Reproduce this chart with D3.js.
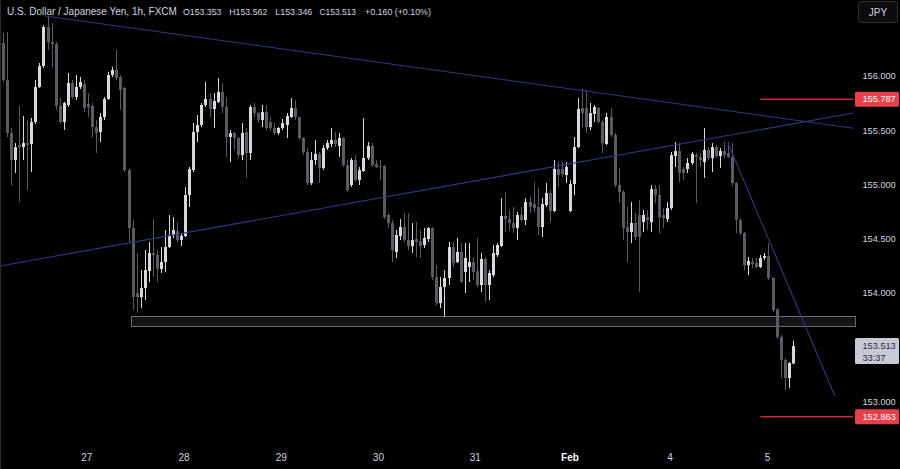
<!DOCTYPE html>
<html>
<head>
<meta charset="utf-8">
<script src="https://cdn.jsdelivr.net/npm/d3@7"></script>
<style>
  html, body { margin: 0; padding: 0; background: #000; }
  svg { display: block; }
</style>
</head>
<body>
<svg id="chart" width="900" height="469"></svg>
<script>
// ---- DATA (USD/JPY 1h, FXCM) ----
const open = [
156.304,155.963,155.475,155.226,155.365,155.346,155.383,155.374,155.576,155.899,
156.092,156.451,156.313,156.295,155.724,155.576,155.733,155.936,155.807,155.899,
155.926,155.742,155.724,155.530,155.484,155.622,155.788,156.009,156.055,155.991,
155.890,155.134,154.600,154.001,153.965,154.048,154.204,154.370,154.351,154.223,
154.287,154.425,154.536,154.573,154.490,154.527,154.904,155.134,155.484,155.549,
155.733,155.788,155.696,155.761,155.853,155.715,155.438,155.475,155.429,155.272,
155.484,155.291,155.715,155.659,155.595,155.668,155.576,155.521,155.475,155.521,
155.549,155.622,155.705,155.622,155.429,155.300,155.015,155.226,155.282,155.153,
155.337,155.374,155.411,155.355,155.429,155.180,154.996,155.226,155.042,155.125,
155.245,155.355,155.190,155.171,155.171,154.720,154.646,154.379,154.527,154.609,
154.490,154.434,154.499,154.481,154.444,154.499,154.600,154.149,153.910,154.057,
154.140,154.425,154.287,154.379,154.195,154.241,154.287,154.204,154.075,154.315,
154.075,154.167,154.351,154.434,154.711,154.683,154.646,154.600,154.720,154.674,
154.840,154.821,154.794,154.609,154.812,154.922,154.757,155.144,155.144,155.088,
154.757,155.005,155.346,155.705,155.705,155.530,155.650,155.705,155.576,155.374,
155.622,155.457,154.996,154.932,154.609,154.563,154.646,154.720,154.655,154.701,
154.655,154.959,154.904,154.720,154.683,154.784,155.263,155.309,155.144,155.144,
155.199,155.272,155.254,155.208,155.319,155.245,155.346,155.263,155.309,155.291,
155.254,155.015,154.674,154.554,154.259,154.287,154.278,154.241,154.324,154.342,
154.140,153.854,153.596,153.384,153.219,153.353
];
const high = [
156.396,156.405,155.521,155.383,155.724,155.632,155.595,155.613,155.963,156.120,
156.470,156.543,156.488,156.313,155.797,155.761,156.028,155.963,156.009,155.991,
155.963,155.843,155.751,155.595,155.659,155.807,156.037,156.083,156.240,156.009,
155.899,155.153,154.674,154.370,154.213,154.398,154.471,154.683,154.398,154.425,
154.582,154.720,154.701,154.655,154.554,154.978,155.162,155.567,155.641,155.751,
155.945,155.843,155.843,155.982,155.936,155.807,155.503,155.484,155.438,155.567,
155.521,155.733,155.751,155.668,155.733,155.733,155.622,155.567,155.530,155.604,
155.659,155.797,155.779,155.622,155.438,155.337,155.300,155.411,155.300,155.365,
155.411,155.521,155.484,155.475,155.438,155.226,155.245,155.272,155.162,155.613,
155.392,155.383,155.226,155.226,155.180,154.738,154.674,154.582,154.683,154.738,
154.738,154.646,154.655,154.582,154.600,154.609,154.609,154.259,154.149,154.213,
154.471,154.471,154.508,154.462,154.462,154.462,154.333,154.508,154.370,154.333,
154.213,154.444,154.462,154.876,154.932,154.766,154.794,154.747,154.794,154.876,
154.886,155.024,154.969,154.876,155.015,154.950,155.226,155.208,155.208,155.208,
155.042,155.438,155.797,155.880,155.871,155.751,155.733,155.715,155.595,155.659,
155.705,155.475,155.153,154.950,154.794,154.840,154.738,154.858,154.766,154.766,
154.996,154.996,154.996,154.784,154.840,155.300,155.392,155.383,155.162,155.245,
155.300,155.291,155.291,155.521,155.346,155.383,155.365,155.337,155.392,155.392,
155.383,155.024,154.692,154.563,154.333,154.324,154.324,154.351,154.370,154.462,
154.149,153.863,153.615,153.403,153.366,153.562
];
const low = [
155.945,155.438,154.996,155.107,154.840,155.226,154.950,155.116,155.558,155.890,
156.074,156.240,156.083,155.687,155.567,155.503,155.715,155.788,155.779,155.880,
155.668,155.622,155.438,155.291,155.392,155.595,155.779,155.991,155.963,155.687,
155.116,154.462,153.845,153.818,153.863,153.937,154.103,154.149,154.103,154.186,
154.195,154.416,154.508,154.471,154.434,154.517,154.794,155.116,155.392,155.530,
155.715,155.622,155.521,155.751,155.659,155.254,155.208,155.319,155.245,155.226,
155.061,155.226,155.622,155.567,155.530,155.503,155.494,155.457,155.457,155.503,
155.429,155.613,155.595,155.411,155.272,154.996,154.996,155.180,155.015,155.134,
155.319,155.346,155.346,155.254,155.162,154.932,154.978,155.024,154.996,155.116,
155.226,155.162,155.153,155.042,154.683,154.600,154.287,154.324,154.490,154.471,
154.398,154.370,154.333,154.324,154.416,154.471,154.122,153.891,153.863,153.781,
154.075,154.241,154.278,154.094,154.001,154.103,154.122,154.057,154.011,153.919,
153.937,154.149,154.333,154.425,154.563,154.582,154.554,154.490,154.655,154.628,
154.738,154.747,154.536,154.517,154.794,154.655,154.747,154.978,155.070,155.015,
154.747,154.904,155.337,155.530,155.475,155.503,155.576,155.567,155.291,155.365,
155.438,154.978,154.830,154.490,154.287,154.462,154.490,154.011,154.563,154.582,
154.563,154.830,154.554,154.600,154.655,154.766,155.162,155.024,155.042,155.107,
155.180,154.830,155.162,155.061,155.226,155.116,155.245,155.153,155.245,155.245,
154.987,154.554,154.536,154.213,154.167,154.232,154.232,154.232,154.306,154.122,
153.827,153.578,153.219,153.109,153.127,153.346
];
const close = [
155.963,155.475,155.226,155.346,155.346,155.383,155.365,155.576,155.899,156.092,
156.451,156.313,156.295,155.724,155.576,155.751,155.936,155.807,155.899,155.945,
155.705,155.715,155.530,155.475,155.622,155.788,156.009,156.055,155.982,155.871,
155.134,154.600,153.965,153.965,154.048,154.213,154.370,154.351,154.223,154.287,
154.425,154.536,154.582,154.490,154.527,154.904,155.144,155.484,155.549,155.733,
155.788,155.696,155.770,155.853,155.715,155.438,155.475,155.429,155.272,155.475,
155.291,155.715,155.659,155.595,155.668,155.521,155.521,155.475,155.521,155.567,
155.632,155.705,155.622,155.429,155.300,155.015,155.226,155.282,155.153,155.337,
155.383,155.411,155.374,155.429,155.180,154.950,155.226,155.042,155.134,155.245,
155.355,155.180,155.162,155.162,154.701,154.646,154.398,154.536,154.609,154.490,
154.434,154.490,154.471,154.434,154.508,154.600,154.149,153.910,154.057,154.140,
154.425,154.278,154.379,154.103,154.324,154.287,154.195,154.075,154.315,154.075,
154.186,154.370,154.444,154.711,154.683,154.646,154.600,154.720,154.674,154.840,
154.794,154.784,154.609,154.821,154.922,154.757,155.144,155.088,155.097,155.162,
155.005,155.346,155.696,155.659,155.530,155.659,155.715,155.576,155.383,155.622,
155.457,154.996,154.932,154.600,154.563,154.646,154.517,154.517,154.720,154.674,
154.959,154.904,154.701,154.692,154.784,155.272,155.309,155.107,155.107,155.199,
155.282,155.254,155.226,155.319,155.245,155.346,155.263,155.309,155.272,155.254,
155.015,154.674,154.554,154.259,154.296,154.269,154.241,154.324,154.342,154.140,
153.845,153.596,153.384,153.219,153.357,153.513
];

// time axis: candle-index position of each day label
const dayLabels = ["27", "28", "29", "30", "31", "Feb", "4", "5"];
const dayIndex  = [20.7, 44.7, 68.7, 92.7, 116.6, 140.0, 164.7, 188.8];

// price axis
const priceTicks = [156.0, 155.5, 155.0, 154.5, 154.0, 153.0];

// marked levels
const levels = [155.787, 152.863];
const levelStartIndex = 187;

// support zone
const zoneTop = 153.790, zoneBottom = 153.698, zoneStartIndex = 31.6;

// trend lines, each defined by two anchor points [index, price]
const trendDown  = [[10.4, 156.552], [143, 155.866]];
const trendUp    = [[0, 154.255], [180, 155.459]];
const trendSteep = [[179, 155.383], [205.4, 153.053]];

const title = "U.S. Dollar / Japanese Yen, 1h, FXCM";
const ohlcText = [["O", "153.353"], ["H", "153.562"], ["L", "153.346"], ["C", "153.513"]];
const changeText = "+0.160 (+0.10%)";
const lastPrice = 153.513;
const countdown = "33:37";
const currency = "JPY";

// ---- DRAW ----
const W = 900, H = 469;
const plotRight = 853;
const svg = d3.select("#chart");
svg.append("rect").attr("width", W).attr("height", H).attr("fill", "#000");

const x = d3.scaleLinear().domain([0, 210]).range([3, 853.5]);
const y = d3.scaleLinear().domain([153, 156]).range([401.8, 76]);

const FONT = "'Liberation Sans', Arial, sans-serif";
const TXT = "#d1d4dc";

// scale a text's font so its width fits a target width
function fitWidth(sel, target, base) {
  sel.attr("font-size", base);
  const w = sel.node().getComputedTextLength();
  if (w > 0) sel.attr("font-size", (base * target / w).toFixed(2));
  return sel;
}

// left frame line
svg.append("line").attr("x1", 0.5).attr("x2", 0.5).attr("y1", 0).attr("y2", H)
  .attr("stroke", "#2a2a2a").attr("stroke-width", 1);

const plot = svg.append("g");
plot.append("clipPath").attr("id", "clip").append("rect")
  .attr("x", 0).attr("y", 0).attr("width", plotRight + 2).attr("height", 445);

// support zone
plot.append("rect")
  .attr("x", Math.round(x(zoneStartIndex)) + 0.5).attr("y", Math.round(y(zoneTop)) + 0.5)
  .attr("width", plotRight + 2 - x(zoneStartIndex)).attr("height", Math.round(y(zoneBottom) - y(zoneTop)))
  .attr("fill", "#141416").attr("stroke", "#6c6c72").attr("stroke-width", 1);

// candles
const data = open.map((o, i) => ({ i, o, h: high[i], l: low[i], c: close[i] }));
const BULL = "#d9d9dd", BEAR = "#5b5b64";
const cg = plot.append("g");
cg.selectAll("line.wick").data(data).enter().append("line")
  .attr("class", "wick")
  .attr("x1", d => Math.round(x(d.i)) + 0.5).attr("x2", d => Math.round(x(d.i)) + 0.5)
  .attr("y1", d => y(d.h)).attr("y2", d => y(d.l))
  .attr("stroke", d => d.c >= d.o ? BULL : BEAR).attr("stroke-width", 1);
cg.selectAll("rect.body").data(data).enter().append("rect")
  .attr("class", "body")
  .attr("x", d => Math.round(x(d.i)) - 1).attr("width", 3)
  .attr("y", d => y(Math.max(d.o, d.c)))
  .attr("height", d => Math.max(1, Math.abs(y(d.o) - y(d.c))))
  .attr("fill", d => d.c >= d.o ? BULL : BEAR);

// trend lines (extended to plot edges)
const tl = plot.append("g").attr("clip-path", "url(#clip)");
function drawTrend(p, fromIdx, toIdx) {
  const slope = (p[1][1] - p[0][1]) / (p[1][0] - p[0][0]);
  const f = i => p[0][1] + slope * (i - p[0][0]);
  tl.append("line")
    .attr("x1", x(fromIdx)).attr("y1", y(f(fromIdx)))
    .attr("x2", x(toIdx)).attr("y2", y(f(toIdx)))
    .attr("stroke", "#2c3982").attr("stroke-width", 1.1);
}
drawTrend(trendDown, trendDown[0][0], 210);
drawTrend(trendUp, -2, 210);
drawTrend(trendSteep, trendSteep[0][0], trendSteep[1][0]);

// red level lines
levels.forEach(v => {
  plot.append("line")
    .attr("x1", x(levelStartIndex)).attr("x2", plotRight)
    .attr("y1", y(v)).attr("y2", y(v))
    .attr("stroke", "#c42b36").attr("stroke-width", 1.5);
});

// price axis labels
const ax = svg.append("g");
ax.selectAll("text.tick").data(priceTicks).enter().append("text")
  .attr("x", 862.5).attr("y", d => y(d)).attr("dy", "0.35em")
  .attr("font-family", FONT).attr("font-size", 9.2)
  .attr("fill", TXT).text(d => d.toFixed(3));

// red level labels
levels.forEach(v => {
  const yy = y(v);
  ax.append("rect").attr("x", 855).attr("y", yy - 7.5).attr("width", 44).attr("height", 15)
    .attr("rx", 1.5).attr("fill", "#e8404b");
  ax.append("text").attr("x", 862.5).attr("y", yy).attr("dy", "0.35em")
    .attr("font-family", FONT).attr("font-size", 9.2)
    .attr("fill", "#ffffff").text(v.toFixed(3));
});

// current price label
{
  const yy = y(lastPrice);
  ax.append("rect").attr("x", 855).attr("y", yy - 8).attr("width", 44).attr("height", 26)
    .attr("rx", 1.5).attr("fill", "#c5cad6");
  ax.append("text").attr("x", 862.5).attr("y", yy).attr("dy", "0.35em")
    .attr("font-family", FONT).attr("font-size", 9.2)
    .attr("fill", "#2a2e39").text(lastPrice.toFixed(3));
  ax.append("text").attr("x", 862.5).attr("y", yy + 12).attr("dy", "0.35em")
    .attr("font-family", FONT).attr("font-size", 9.2)
    .attr("fill", "#2a2e39").text(countdown);
}

// currency button
svg.append("rect").attr("x", 858.5).attr("y", 1.5).attr("width", 39).attr("height", 21)
  .attr("rx", 3).attr("fill", "#0c0c0e").attr("stroke", "#2e2e33");
svg.append("text").attr("x", 878).attr("y", 12).attr("dy", "0.35em")
  .attr("text-anchor", "middle").attr("font-family", FONT).attr("font-size", 10)
  .attr("fill", TXT).text(currency);

// time axis
svg.append("g").selectAll("text").data(dayLabels).enter().append("text")
  .attr("x", (d, k) => x(dayIndex[k])).attr("y", 461)
  .attr("text-anchor", "middle").attr("font-family", FONT).attr("font-size", 10)
  .attr("font-weight", d => isNaN(+d) ? "bold" : "normal")
  .attr("fill", d => isNaN(+d) ? "#ffffff" : TXT).text(d => d);

// title line
const hdr = svg.append("g").attr("font-family", FONT).attr("fill", TXT);
fitWidth(hdr.append("text").attr("x", 7).attr("y", 12).attr("dy", "0.35em").text(title), 170, 11);
const ohlcX = [183, 229.3, 275.3, 319.5];
const ohlcW = [38.5, 38, 37, 36.5];
ohlcText.forEach(([k, v], n) => {
  fitWidth(hdr.append("text").attr("x", ohlcX[n]).attr("y", 12).attr("dy", "0.35em").text(k + v), ohlcW[n], 10);
});
fitWidth(hdr.append("text").attr("x", 365).attr("y", 12).attr("dy", "0.35em").text(changeText), 66, 10);
</script>
</body>
</html>
